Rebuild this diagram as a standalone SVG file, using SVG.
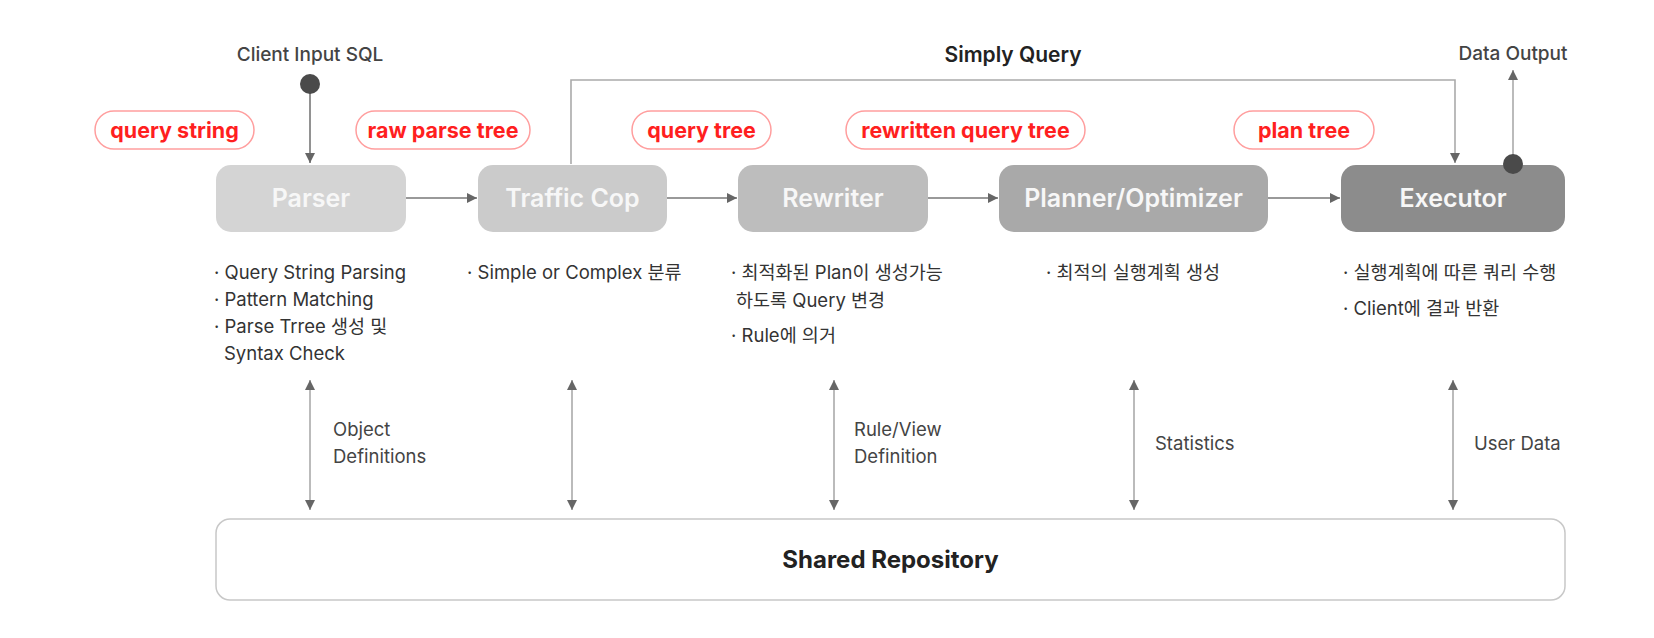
<svg xmlns="http://www.w3.org/2000/svg" width="1654" height="638" viewBox="0 0 1654 638">
<defs>
<style>
text{font-family:Inter,"Noto Sans CJK KR","Noto Sans",sans-serif}
.box{stroke:none}
.bt{fill:#f7f7f7;font-size:25px;font-weight:600;text-anchor:middle}
.pill{fill:#fff;stroke:#ff9e9e;stroke-width:1.5}
.pt{fill:#ff1f1f;font-size:21.5px;font-weight:700;text-anchor:middle}
.ln{fill:none;stroke:#777;stroke-width:1.6}
.lt{fill:none;stroke:#aaa;stroke-width:1.6}
.desc{fill:#333;font-size:18.5px}
.lab{fill:#444;font-size:18.5px}
.top{fill:#444;font-size:19px;font-weight:500;text-anchor:middle}
</style>
<marker id="ah" viewBox="0 0 10 10" refX="10" refY="5" markerWidth="10" markerHeight="10" markerUnits="userSpaceOnUse" orient="auto-start-reverse">
<path d="M0,0 L10,5 L0,10 z" fill="#666"/>
</marker>
</defs>
<rect width="1654" height="638" fill="#fff"/>

<g id="connectors">
<line class="ln" x1="310" y1="84" x2="310" y2="163" marker-end="url(#ah)"/>
<line class="ln" x1="406" y1="198" x2="477" y2="198" marker-end="url(#ah)"/>
<line class="ln" x1="667" y1="198" x2="737" y2="198" marker-end="url(#ah)"/>
<line class="ln" x1="928" y1="198" x2="998" y2="198" marker-end="url(#ah)"/>
<line class="ln" x1="1268" y1="198" x2="1340" y2="198" marker-end="url(#ah)"/>
<polyline class="lt" points="571,164 571,80 1455,80 1455,163" marker-end="url(#ah)"/>
<line class="lt" x1="1513" y1="164" x2="1513" y2="70" marker-end="url(#ah)"/>
<line class="lt" x1="310" y1="380" x2="310" y2="510" marker-start="url(#ah)" marker-end="url(#ah)"/>
<line class="lt" x1="572" y1="380" x2="572" y2="510" marker-start="url(#ah)" marker-end="url(#ah)"/>
<line class="lt" x1="834" y1="380" x2="834" y2="510" marker-start="url(#ah)" marker-end="url(#ah)"/>
<line class="lt" x1="1134" y1="380" x2="1134" y2="510" marker-start="url(#ah)" marker-end="url(#ah)"/>
<line class="lt" x1="1453" y1="380" x2="1453" y2="510" marker-start="url(#ah)" marker-end="url(#ah)"/>
<circle cx="310" cy="84" r="10" fill="#4a4a4a"/>
<text class="top" x="310" y="61">Client Input SQL</text>
<text class="top" x="1013" y="62" style="fill:#222;font-size:21px;font-weight:600">Simply Query</text>
<text class="top" x="1513" y="60">Data Output</text>
<text class="lab" x="333" y="436">Object</text>
<text class="lab" x="333" y="463">Definitions</text>
<text class="lab" x="854" y="436">Rule/View</text>
<text class="lab" x="854" y="463">Definition</text>
<text class="lab" x="1155" y="450">Statistics</text>
<text class="lab" x="1474" y="450">User Data</text>
</g>

<g id="pills">
<rect class="pill" x="95" y="111" width="159" height="38" rx="19"/>
<text class="pt" x="174.5" y="138">query string</text>
<rect class="pill" x="356" y="111" width="174" height="38" rx="19"/>
<text class="pt" x="443" y="138">raw parse tree</text>
<rect class="pill" x="632" y="111" width="139" height="38" rx="19"/>
<text class="pt" x="701.5" y="138">query tree</text>
<rect class="pill" x="846" y="111" width="239" height="38" rx="19"/>
<text class="pt" x="965.5" y="138">rewritten query tree</text>
<rect class="pill" x="1234" y="111" width="140" height="38" rx="19"/>
<text class="pt" x="1304" y="138">plan tree</text>
</g>

<g id="parser">
<rect class="box" x="216" y="165" width="190" height="67" rx="15" fill="#d4d4d4"/>
<text class="bt" x="311" y="207">Parser</text>
<text class="desc" x="214" y="279">· Query String Parsing</text>
<text class="desc" x="214" y="306">· Pattern Matching</text>
<text class="desc" x="214" y="333">· Parse Trree 생성 및</text>
<text class="desc" x="224" y="360">Syntax Check</text>
</g>

<g id="traffic-cop">
<rect class="box" x="478" y="165" width="189" height="67" rx="15" fill="#cbcbcb"/>
<text class="bt" x="572.5" y="207">Traffic Cop</text>
<text class="desc" x="467" y="279">· Simple or Complex 분류</text>
</g>

<g id="rewriter">
<rect class="box" x="738" y="165" width="190" height="67" rx="15" fill="#bdbdbd"/>
<text class="bt" x="833" y="207">Rewriter</text>
<text class="desc" x="731" y="279">· 최적화된 Plan이 생성가능</text>
<text class="desc" x="736" y="307">하도록 Query 변경</text>
<text class="desc" x="731" y="342">· Rule에 의거</text>
</g>

<g id="planner">
<rect class="box" x="999" y="165" width="269" height="67" rx="15" fill="#a9a9a9"/>
<text class="bt" x="1133.5" y="207">Planner/Optimizer</text>
<text class="desc" x="1046" y="279">· 최적의 실행계획 생성</text>
</g>

<g id="executor">
<rect class="box" x="1341" y="165" width="224" height="67" rx="15" fill="#8c8c8c"/>
<text class="bt" x="1453" y="207">Executor</text>
<text class="desc" x="1343" y="279">· 실행계획에 따른 쿼리 수행</text>
<text class="desc" x="1343" y="315">· Client에 결과 반환</text>
</g>

<g id="shared-repository">
<rect x="216" y="519" width="1349" height="81" rx="14" fill="#fff" stroke="#c8c8c8" stroke-width="1.5"/>
<text x="890.5" y="568" style="fill:#222;font-size:24px;font-weight:700;text-anchor:middle">Shared Repository</text>
</g>
<circle cx="1513" cy="164" r="10" fill="#4a4a4a"/>
</svg>
